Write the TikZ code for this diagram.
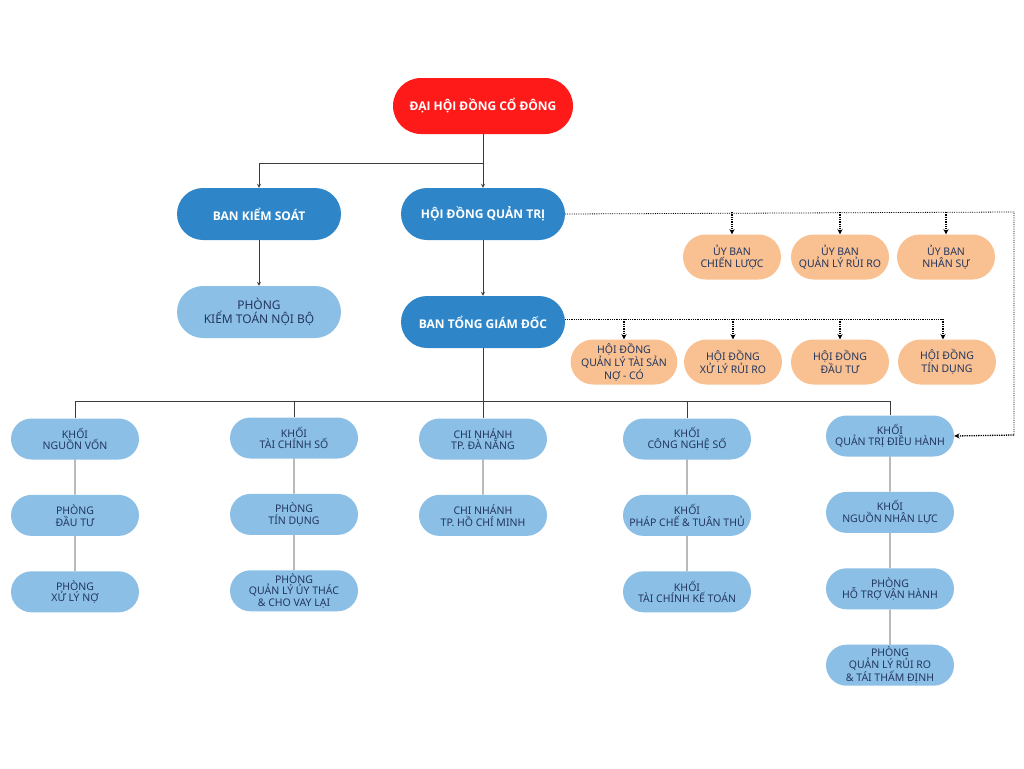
\documentclass[tikz,border=0pt]{standalone}
\usepackage{fontspec}
\setmainfont{Noto Sans}
\newfontfamily\headfont{Open Sans}
\usepackage{tikz}
\usetikzlibrary{arrows,shapes,positioning}
\usepackage{xcolor}
\definecolor{dhred}{RGB}{255,26,26}
\definecolor{dhblue}{RGB}{46,134,200}
\definecolor{dhlight}{RGB}{139,191,230}
\definecolor{dhorange}{RGB}{249,192,145}
\definecolor{dhtext}{RGB}{35,55,95}
\definecolor{dhline}{RGB}{60,60,60}
\tikzstyle{headbox} = [rounded rectangle, draw=none, text=white, font=\headfont\fontsize{12}{14}\selectfont\bfseries, minimum width=164pt, minimum height=52pt, inner xsep=0pt]
\tikzstyle{lbox} = [rounded rectangle, fill=dhlight, text=dhtext, align=center, font=\fontsize{10.5}{11.5}\selectfont, minimum width=128pt, minimum height=41pt, inner xsep=0pt, inner ysep=1pt]
\tikzstyle{obox} = [rounded rectangle, fill=dhorange, text=dhtext, align=center, font=\fontsize{10.5}{11.5}\selectfont, minimum width=98pt, minimum height=45pt, inner xsep=0pt, inner ysep=1pt]
\tikzstyle{arrow} = [line width=0.8pt,->,>=stealth,color=dhline]
\tikzstyle{link} = [line width=0.8pt,color=dhline]
\tikzstyle{dotline} = [line width=0.8pt,densely dotted,color=black]
\tikzstyle{dotarrow} = [line width=1.3pt,densely dotted,->,>=stealth,color=black]

\begin{document}
\begin{tikzpicture}[x=1pt,y=-1pt, node distance=35pt]
\useasboundingbox (0,0) rectangle (1024,768);
% Top
\node[headbox, fill=dhred, minimum width=180pt, minimum height=56pt] (dhdcd) at (483,106) {ĐẠI HỘI ĐỒNG CỔ ĐÔNG};
\node[headbox, fill=dhblue] (bks) at (259,214) {BAN KIỂM SOÁT};
\node[headbox, fill=dhblue] (hdqt) at (483,214) {HỘI ĐỒNG QUẢN TRỊ};
\node[lbox, minimum width=164pt, minimum height=52pt, font=\fontsize{12}{14}\selectfont] (pktnb) at (259,312) {PHÒNG\\KIỂM TOÁN NỘI BỘ};
\node[headbox, fill=dhblue] (btgd) at (483,322) {BAN TỔNG GIÁM ĐỐC};

% Uy ban
\node[obox] (ubcl) at (732,257) {ỦY BAN\\CHIẾN LƯỢC};
\node[obox] (ubrr) at (840,257) {ỦY BAN\\QUẢN LÝ RỦI RO};
\node[obox] (ubns) at (946,257) {ỦY BAN\\NHÂN SỰ};

% Hoi dong
\node[obox] (hdts) at (624,362) {HỘI ĐỒNG\\QUẢN LÝ TÀI SẢN\\NỢ - CÓ};
\node[obox] (hdrr) at (733,362) {HỘI ĐỒNG\\XỬ LÝ RỦI RO};
\node[obox] (hddt) at (840,362) {HỘI ĐỒNG\\ĐẦU TƯ};
\node[obox] (hdtd) at (947,362) {HỘI ĐỒNG\\TÍN DỤNG};

% Khoi
\node[lbox] (nv) at (75,439) {KHỐI\\NGUỒN VỐN};
\node[lbox, below=of nv] (dt) {PHÒNG\\ĐẦU TƯ};
\node[lbox, below=of dt] (xln) {PHÒNG\\XỬ LÝ NỢ};

\node[lbox] (tcs) at (294,438) {KHỐI\\TÀI CHÍNH SỐ};
\node[lbox, below=of tcs] (td) {PHÒNG\\TÍN DỤNG};
\node[lbox, below=of td] (qlut) {PHÒNG\\QUẢN LÝ ỦY THÁC\\\& CHO VAY LẠI};

\node[lbox] (dn) at (483,439) {CHI NHÁNH\\TP. ĐÀ NẴNG};
\node[lbox, below=of dn] (hcm) {CHI NHÁNH\\TP. HỒ CHÍ MINH};

\node[lbox] (cns) at (687,439) {KHỐI\\CÔNG NGHỆ SỐ};
\node[lbox, below=of cns] (pc) {KHỐI\\PHÁP CHẾ \& TUÂN THỦ};
\node[lbox, below=of pc] (tckt) {KHỐI\\TÀI CHÍNH KẾ TOÁN};

\node[lbox] (qtdh) at (890,436) {KHỐI\\QUẢN TRỊ ĐIỀU HÀNH};
\node[lbox, below=of qtdh] (nnl) {KHỐI\\NGUỒN NHÂN LỰC};
\node[lbox, below=of nnl] (htvh) {PHÒNG\\HỖ TRỢ VẬN HÀNH};
\node[lbox, below=of htvh] (qlrr) {PHÒNG\\QUẢN LÝ RỦI RO\\\& TÁI THẨM ĐỊNH};

% Connectors
\coordinate (split) at (483,163);
\draw[link] (dhdcd.south) -- (split);
\draw[arrow] (split) -| (bks.north);
\draw[arrow] (split) -- (hdqt.north);
\draw[arrow] (bks.south) -- (pktnb.north);
\draw[arrow] (hdqt.south) -- (btgd.north);

\coordinate (busl) at (75,401);
\coordinate (busr) at (890,401);
\draw[link] (btgd.south) -- (dn.north);
\draw[link] (nv.north) -- (busl) -- (busr) -- (qtdh.north);
\draw[link] (tcs.north) -- (tcs.north |- busl);
\draw[link] (cns.north) -- (cns.north |- busl);

\draw[link] (nv) -- (dt);
\draw[link] (dt) -- (xln);
\draw[link] (tcs) -- (td);
\draw[link] (td) -- (qlut);
\draw[link] (dn) -- (hcm);
\draw[link] (cns) -- (pc);
\draw[link] (pc) -- (tckt);
\draw[link] (qtdh) -- (nnl);
\draw[link] (nnl) -- (htvh);
\draw[link] (htvh) -- (qlrr);

% Dotted links
\coordinate (loopt) at (1014,212);
\coordinate (loopb) at (1014,435);
\draw[dotline] (hdqt.east) -- (loopt) -- (loopb);
\draw[dotarrow] (loopb) -- (qtdh.east);
\foreach \u in {ubcl,ubrr,ubns}
  \draw[dotarrow] (\u.north |- loopt) -- (\u.north);

\coordinate (hdend) at (943,319);
\draw[dotline] (btgd.east |- hdend) -- (hdend);
\foreach \h in {hdts,hdrr,hddt}
  \draw[dotarrow] (\h.north |- hdend) -- (\h.north);
\draw[dotarrow] (hdend) -- (hdend |- hdtd.north);
\end{tikzpicture}
\end{document}
